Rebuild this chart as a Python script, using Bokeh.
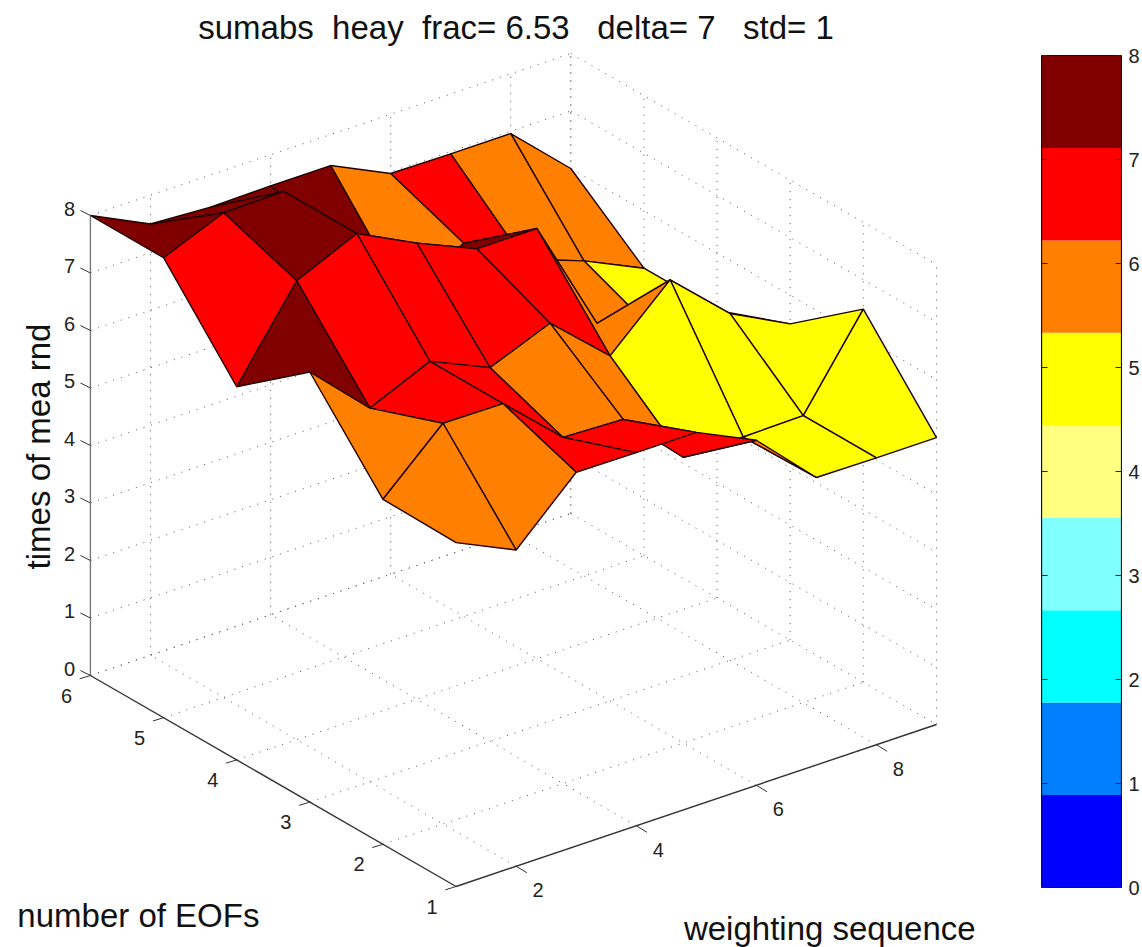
from bokeh.plotting import figure
from bokeh.embed import file_html
from bokeh.resources import INLINE
from bokeh.models import Range1d, LinearAxis, FixedTicker, ColumnDataSource
from bokeh.core.properties import value

# ---- data -----------------------------------------------------------
eofs = [1, 2, 3, 4, 5, 6]
weights = [1, 2, 3, 4, 5, 6, 7, 8, 9]
z_eof1 = [5.98, 5.50, 6.50, 6.49, 6.49, 6.00, 5.00, 4.99, 4.99]
z_eof2 = [6.00, 6.97, 6.96, 6.02, 5.98, 4.97, 4.97, 4.99, 6.49]
z_eof3 = [7.48, 6.50, 6.96, 6.50, 6.92, 6.00, 6.97, 6.03, 5.50]
z_eof4 = [6.49, 7.98, 8.45, 7.93, 7.48, 7.48, 5.48, 4.94, 5.00]
z_eof5 = [8.00, 8.43, 8.45, 7.23, 5.93, 6.49, 5.86, 5.48, 5.00]
z_eof6 = [8.00, 7.50, 7.44, 7.46, 7.46, 6.97, 6.96, 6.96, 6.00]
z_rows = [z_eof1, z_eof2, z_eof3, z_eof4, z_eof5, z_eof6]

z_ticks = [0, 1, 2, 3, 4, 5, 6, 7, 8]
eof_ticks = [1, 2, 3, 4, 5, 6]
weight_ticks = [2, 4, 6, 8]
colormap = ["#0000ff", "#0080ff", "#00ffff", "#80ffff", "#ffff80",
            "#ffff00", "#ff8000", "#ff0000", "#800000"]
title = "sumabs \u00a0heay \u00a0frac= 6.53 \u00a0\u00a0delta= 7 \u00a0\u00a0std= 1"
zlabel = "times of mea rnd"
elabel = "number of EOFs"
wlabel = "weighting sequence"

# ---- view: orthographic projection (picture pixels) -------------------
OX, OY = 456.0, 886.0
EX, EY = -73.2, -42.2
WX, WY = 60.1, -20.25
ZY = -57.5
ZMAX = 8
FONT = "Liberation Sans"
TICK_PX = "20px"
LABEL_PX = "33px"
INK = "#111111"


def proj(e, w, z):
    return (OX + EX * (e - 1) + WX * (w - 1),
            OY + EY * (e - 1) + WY * (w - 1) + ZY * z)


def level(z):
    n = len(colormap)
    i = int(z / ZMAX * n)
    return colormap[max(0, min(n - 1, i))]


W, H = 1142, 947
CB_L, CB_R, CB_TOP, CB_BOT = 1042, 1122, 55, 887
cb_unit = (CB_BOT - CB_TOP) / ZMAX

p = figure(width=W, height=H, output_backend="svg", toolbar_location=None,
           x_range=Range1d(0, CB_R), y_range=Range1d(H, 0),
           min_border_left=0, min_border_top=0, min_border_bottom=0, min_border_right=W - CB_R,
           outline_line_color=None)
p.xaxis.visible = False
p.yaxis.visible = False
p.grid.visible = False

e0, e1 = eofs[0], eofs[-1]
w0, w1 = weights[0], weights[-1]

# dotted grid on floor and the two back walls
gx, gy = [], []


def seg(a, b):
    ax, ay = proj(*a)
    bx, by = proj(*b)
    gx.append([ax, bx])
    gy.append([ay, by])


for e in eof_ticks:
    seg((e, w0, 0), (e, w1, 0))
    seg((e, w1, 0), (e, w1, ZMAX))
for w in weight_ticks:
    seg((e0, w, 0), (e1, w, 0))
    seg((e1, w, 0), (e1, w, ZMAX))
for z in z_ticks:
    seg((e1, w0, z), (e1, w1, z))
    seg((e1, w1, z), (e0, w1, z))
seg((e1, w1, 0), (e1, w1, ZMAX))
p.multi_line(gx, gy, line_color="#555555", line_width=1, line_dash="1 7")

# surface, painted far to near; a face takes the colour of its lowest-index corner
xs, ys, cols = [], [], []
for i in range(len(eofs) - 2, -1, -1):
    for j in range(len(weights) - 2, -1, -1):
        c = [(i, j), (i + 1, j), (i + 1, j + 1), (i, j + 1)]
        pts = [proj(eofs[a], weights[b], z_rows[a][b]) for a, b in c]
        xs.append([q[0] for q in pts])
        ys.append([q[1] for q in pts])
        cols.append(level(z_rows[i][j]))
p.patches(xs, ys, fill_color=cols, line_color="#200000", line_width=1.4)

# axis lines
ax_col = "#333333"
for a, b, col in [((e1, w0, 0), (e1, w0, ZMAX), "#777777"),
                  ((e1, w0, 0), (e0, w0, 0), ax_col),
                  ((e0, w0, 0), (e0, w1, 0), ax_col)]:
    A, B = proj(*a), proj(*b)
    p.line([A[0], B[0]], [A[1], B[1]], line_color=col, line_width=1.4)


def ticks(positions, labels, dx, dy, lx, ly):
    tx = [[q[0], q[0] + dx] for q in positions]
    ty = [[q[1], q[1] + dy] for q in positions]
    p.multi_line(tx, ty, line_color=ax_col, line_width=1)
    src = ColumnDataSource(dict(x=[q[0] + lx for q in positions],
                                y=[q[1] + ly for q in positions], t=labels))
    p.text("x", "y", text="t", source=src, text_font=value(FONT),
           text_font_size=TICK_PX, text_align="center", text_baseline="middle",
           text_color="#222222")


ticks([proj(e1, w0, z) for z in z_ticks], [str(z) for z in z_ticks], -10, -5, -21, -7)
ticks([proj(e, w0, 0) for e in eof_ticks], [str(e) for e in eof_ticks], -10.7, 3.3, -24, 20)
ticks([proj(e0, w, 0) for w in weight_ticks], [str(w) for w in weight_ticks], 10.7, 6.5, 22, 24)

# texts
for x, y, t, ang in [(516, 27, title, 0), (38, 446, zlabel, 1.5708),
                     (138, 915, elabel, 0), (830, 928, wlabel, 0)]:
    p.text([x], [y], text=[t], angle=[ang], text_font=value(FONT), text_font_size=LABEL_PX,
           text_align="center", text_baseline="middle", text_color=INK)

# colour bar, on a range of its own so that it has a real axis on the right
p.extra_y_ranges["cbar"] = Range1d((CB_BOT - H) / cb_unit, CB_BOT / cb_unit)
n = len(colormap)
p.quad(left=CB_L, right=CB_R, bottom=[i * ZMAX / n for i in range(n)],
       top=[(i + 1) * ZMAX / n for i in range(n)], fill_color=colormap, line_color=None,
       y_range_name="cbar")
p.multi_line([[CB_L, CB_R, CB_R, CB_L, CB_L]],
             [[0, 0, ZMAX, ZMAX, 0]], line_color=INK, line_width=1.2, y_range_name="cbar")
p.multi_line([[CB_L, CB_L + 6] for z in z_ticks], [[z, z] for z in z_ticks],
             line_color="#222222", line_width=1, y_range_name="cbar")
ax_r = LinearAxis(y_range_name="cbar", ticker=FixedTicker(ticks=z_ticks), bounds=(0, ZMAX),
                  major_tick_in=6, major_tick_out=0, minor_tick_line_color=None,
                  axis_line_color=INK, major_tick_line_color="#222222",
                  major_label_standoff=7, major_label_text_font=FONT,
                  major_label_text_font_size=TICK_PX, major_label_text_color="#222222")
p.add_layout(ax_r, "right")

open("out.html", "w").write(file_html(p, INLINE))
